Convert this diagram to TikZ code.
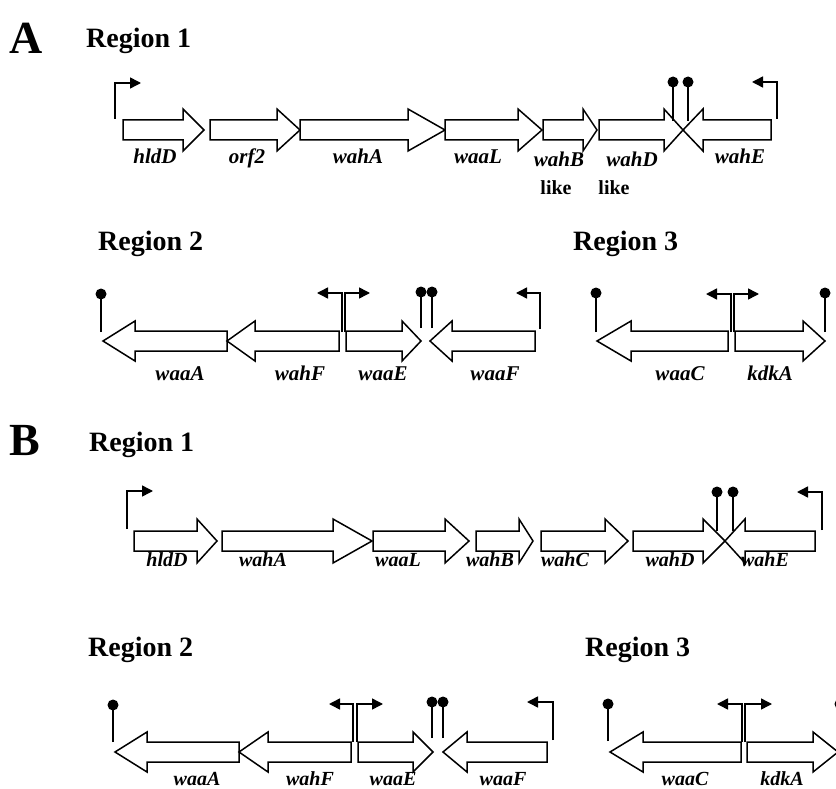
\documentclass[tikz,border=0pt]{standalone}
\usepackage{fontspec}
\setmainfont{Liberation Serif}
\usetikzlibrary{arrows.meta}
\tikzset{
  gene/.style={draw=black, fill=white, line width=1.5pt, line join=miter},
  stem/.style={line width=1.5pt},
  prom/.style={line width=1.5pt, -{Triangle[length=11pt,width=11pt]}},
  glab/.style={font=\fontsize{21}{25}\selectfont\bfseries\itshape, inner sep=0pt, anchor=base},
  glabb/.style={font=\fontsize{20}{24}\selectfont\bfseries\itshape, inner sep=0pt, anchor=base},
  likelab/.style={font=\fontsize{20}{24}\selectfont\bfseries, inner sep=0pt, anchor=base},
  rtitle/.style={font=\fontsize{28}{32}\selectfont\bfseries, inner sep=0pt, anchor=base west},
  ptitle/.style={font=\fontsize{46}{50}\selectfont\bfseries, inner sep=0pt, anchor=base west}
}
% forward gene: left, headstart, tip, ycenter, head half height
\newcommand{\gfw}[5]{\draw[gene] (#1,{#4-10}) -- (#2,{#4-10}) -- (#2,{#4-#5}) -- (#3,#4) -- (#2,{#4+#5}) -- (#2,{#4+10}) -- (#1,{#4+10}) -- cycle;}
% reverse gene: tip, headbase, right, ycenter, head half height
\newcommand{\grv}[5]{\draw[gene] (#3,{#4-10}) -- (#2,{#4-10}) -- (#2,{#4-#5}) -- (#1,#4) -- (#2,{#4+#5}) -- (#2,{#4+10}) -- (#3,{#4+10}) -- cycle;}
% lollipop terminator: x, base y, circle y
\newcommand{\lolli}[3]{\draw[stem] (#1,#2) -- (#1,#3); \fill (#1,#3) circle[radius=5.5pt];}
% promoter: x, base y, top y, arrow end x
\newcommand{\prm}[4]{\draw[prom] (#1,#2) -- (#1,#3) -- (#4,#3);}
\begin{document}
\begin{tikzpicture}[x=1pt,y=-1pt]
\useasboundingbox (0,0) rectangle (836,789);
\clip (0,0) rectangle (836,789);
\fill[white] (0,0) rectangle (836,789);

% ---------------- Panel A ----------------
\node[ptitle] (pA) at (9,54) {A};
\node[rtitle] (rA1) at (86,48) {Region 1};

\prm{115}{119}{83}{141}
\gfw{123}{183}{204}{130}{21}
\gfw{210}{277}{300}{130}{21}
\gfw{300}{408}{445}{130}{21}
\gfw{445}{518}{542}{130}{21}
\gfw{543}{583}{597}{130}{21}
\gfw{599}{664}{683}{130}{21}
\grv{683}{703}{771}{130}{21}
\lolli{673}{121}{82}
\lolli{688}{121}{82}
\prm{777}{119}{82}{752}

\node[glab] (a1) at (155,164) {hldD};
\node[glab] (a2) at (247,164) {orf2};
\node[glab] (a3) at (358,164) {wahA};
\node[glab] (a4) at (478,164) {waaL};
\node[glab] (a5) at (559,167) {wahB};
\node[likelab] (a5l) at (556,195) {like};
\node[glab] (a6) at (632,167) {wahD};
\node[likelab] (a6l) at (614,195) {like};
\node[glab] (a7) at (740,164) {wahE};

\node[rtitle] (rA2) at (98,250) {Region 2};
\node[rtitle] (rA3) at (573,250) {Region 3};

% Region 2
\grv{103}{135}{227}{341}{20}
\grv{227}{255}{339}{341}{20}
\gfw{346}{402}{421}{341}{20}
\grv{430}{452}{535}{341}{20}
\lolli{101}{332}{294}
\prm{342}{332}{293}{317}
\prm{345}{332}{293}{370}
\lolli{421}{328}{292}
\lolli{432}{328}{292}
\prm{540}{329}{293}{516}
\node[glab] (b1) at (180,380) {waaA};
\node[glab] (b2) at (300,380) {wahF};
\node[glab] (b3) at (383,380) {waaE};
\node[glab] (b4) at (495,380) {waaF};

% Region 3
\grv{597}{631}{728}{341}{20}
\gfw{735}{803}{825}{341}{20}
\lolli{596}{332}{293}
\lolli{825}{332}{293}
\prm{731}{332}{294}{706}
\prm{734}{332}{294}{759}
\node[glab] (c1) at (680,380) {waaC};
\node[glab] (c2) at (770,380) {kdkA};

% ---------------- Panel B ----------------
\node[ptitle] (pB) at (9,455) {B};
\node[rtitle] (rB1) at (89,451) {Region 1};

\prm{127}{529}{491}{153}
\gfw{134}{197}{217}{541}{22}
\gfw{222}{333}{372}{541}{22}
\gfw{373}{445}{469}{541}{22}
\gfw{476}{519}{533}{541}{22}
\gfw{541}{605}{628}{541}{22}
\gfw{633}{703}{725}{541}{22}
\grv{725}{745}{815}{541}{22}
\lolli{717}{531}{492}
\lolli{733}{531}{492}
\prm{822}{530}{492}{797}

\node[glabb] (d1) at (167,566) {hldD};
\node[glabb] (d2) at (263,566) {wahA};
\node[glabb] (d3) at (398,566) {waaL};
\node[glabb] (d4) at (490,566) {wahB};
\node[glabb] (d5) at (565,566) {wahC};
\node[glabb] (d6) at (670,566) {wahD};
\node[glabb] (d7) at (765,566) {wahE};

\node[rtitle] (rB2) at (88,656) {Region 2};
\node[rtitle] (rB3) at (585,656) {Region 3};

% Region 2
\grv{115}{147}{239}{752}{20}
\grv{239}{268}{351}{752}{20}
\gfw{358}{413}{433}{752}{20}
\grv{443}{467}{547}{752}{20}
\lolli{113}{742}{705}
\prm{353}{742}{704}{329}
\prm{357}{742}{704}{383}
\lolli{432}{738}{702}
\lolli{443}{738}{702}
\prm{553}{740}{702}{527}
\node[glabb] (e1) at (197,785) {waaA};
\node[glabb] (e2) at (310,785) {wahF};
\node[glabb] (e3) at (393,785) {waaE};
\node[glabb] (e4) at (503,785) {waaF};

% Region 3
\grv{610}{643}{741}{752}{20}
\gfw{747}{813}{838}{752}{20}
\lolli{608}{741}{704}
\lolli{840}{741}{704}
\prm{742}{742}{704}{717}
\prm{745}{742}{704}{772}
\node[glabb] (f1) at (685,785) {waaC};
\node[glabb] (f2) at (782,785) {kdkA};
\end{tikzpicture}
\end{document}
